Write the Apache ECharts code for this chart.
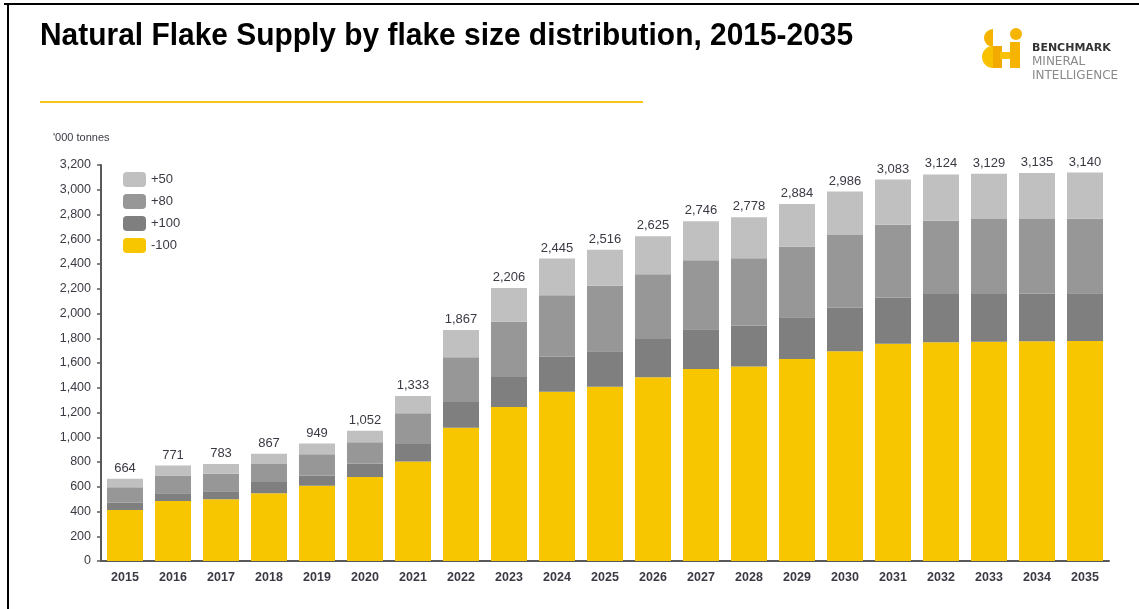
<!DOCTYPE html>
<html>
<head>
<meta charset="utf-8">
<script src="https://cdn.jsdelivr.net/npm/echarts@6/dist/echarts.min.js"></script>
<style>
html,body{margin:0;padding:0;background:#fff;}
#chart{width:1139px;height:609px;}
</style>
</head>
<body>
<div id="chart"></div>
<script>
const years = ['2015','2016','2017','2018','2019','2020','2021','2022','2023','2024','2025','2026','2027','2028','2029','2030','2031','2032','2033','2034','2035'];
const minus100 = [412,485,498,547,609,679,805,1077,1244,1368,1409,1484,1551,1571,1632,1694,1756,1767,1772,1775,1778];
const plus100  = [59,62,65,91,81,108,140,208,243,283,285,310,321,331,337,353,372,391,386,385,385];
const plus80   = [124,143,143,146,172,172,248,361,447,496,531,523,558,544,571,587,590,592,606,604,603];
const plus50   = [69,81,77,83,87,93,140,221,272,298,291,308,316,332,344,352,365,374,365,371,374];
const yTicks = {min:0, max:3200, interval:200};

const totals = years.map((_, i) => minus100[i] + plus100[i] + plus80[i] + plus50[i]);
const fmt = v => v.toLocaleString('en-US');

const chart = echarts.init(document.getElementById('chart'));
const labelColor = '#3a3a44';
const font = "'Liberation Sans', Arial, sans-serif";

function bar(name, data, color, extra) {
  return Object.assign({
    name, type: 'bar', stack: 'total', data, barWidth: '75%',
    itemStyle: {color},
    emphasis: {disabled: true}
  }, extra || {});
}

chart.setOption({
  animation: false,
  textStyle: {fontFamily: font},
  grid: {left: 101, right: 30, top: 165, bottom: 48, containLabel: false},
  legend: {
    orient: 'vertical', left: 123, top: 172, padding: 0,
    itemWidth: 23, itemHeight: 15, itemGap: 7,
    textStyle: {fontSize: 13, color: labelColor, fontFamily: font},
    data: ['+50', '+80', '+100', '-100']
  },
  xAxis: {
    type: 'category', data: years,
    axisLine: {lineStyle: {color: '#595959', width: 2}},
    axisTick: {show: false},
    axisLabel: {fontSize: 12.5, fontWeight: 'bold', color: labelColor, margin: 10, fontFamily: font}
  },
  yAxis: {
    type: 'value', min: yTicks.min, max: yTicks.max, interval: yTicks.interval,
    axisLine: {show: true, lineStyle: {color: '#595959', width: 2}},
    axisTick: {show: true, length: 4, lineStyle: {color: '#595959', width: 1.5}},
    splitLine: {show: false},
    axisLabel: {fontSize: 12.5, color: labelColor, margin: 10, formatter: v => fmt(v), fontFamily: font}
  },
  series: [
    bar('-100', minus100, '#F8C600'),
    bar('+100', plus100, '#7F7F7F'),
    bar('+80', plus80, '#979797'),
    bar('+50', plus50, '#C0C0C0', {
      label: {
        show: true, position: 'top', distance: 4,
        fontSize: 13, color: labelColor, fontFamily: font,
        formatter: p => fmt(totals[p.dataIndex])
      }
    })
  ],
  graphic: [
    {type: 'line', shape: {x1: 4, y1: 4, x2: 1139, y2: 4}, style: {stroke: '#000', lineWidth: 2}},
    {type: 'line', shape: {x1: 8, y1: 4, x2: 8, y2: 609}, style: {stroke: '#000', lineWidth: 2}},
    {type: 'text', x: 40, y: 20, scaleX: 0.935, originX: 0, style: {text: 'Natural Flake Supply by flake size distribution, 2015-2035', font: "bold 32px 'Liberation Sans', sans-serif", fill: '#000'}},
    {type: 'line', shape: {x1: 40, y1: 102, x2: 643, y2: 102}, style: {stroke: '#F5C518', lineWidth: 2}},
    {type: 'text', left: 53, top: 132, style: {text: "'000 tonnes", font: "11px 'Liberation Sans', sans-serif", fill: labelColor}},
    // logo
    {type: 'sector', shape: {cx: 993, cy: 38, r: 9, r0: 0, startAngle: Math.PI/2, endAngle: Math.PI*1.5, clockwise: true}, style: {fill: '#F6B400'}},
    {type: 'circle', shape: {cx: 1016, cy: 34, r: 6}, style: {fill: '#F6B400'}},
    {type: 'sector', shape: {cx: 993, cy: 57, r: 11, r0: 0, startAngle: Math.PI/2, endAngle: Math.PI*1.5, clockwise: true}, style: {fill: '#F8C200'}},
    {type: 'rect', shape: {x: 993, y: 46, width: 9, height: 22}, style: {fill: '#F2A900'}},
    {type: 'rect', shape: {x: 1000, y: 52, width: 12, height: 7}, style: {fill: '#F8C200'}},
    {type: 'rect', shape: {x: 1010, y: 42, width: 10, height: 26}, style: {fill: '#F6B400'}},
    {type: 'text', left: 1032, top: 43, style: {text: 'BENCHMARK', font: "bold 11px 'DejaVu Sans', sans-serif", fill: '#333'}},
    {type: 'text', left: 1032, top: 56, style: {text: 'MINERAL', font: "12px 'DejaVu Sans', sans-serif", fill: '#8a8a8a'}},
    {type: 'text', left: 1032, top: 70, style: {text: 'INTELLIGENCE', font: "12px 'DejaVu Sans', sans-serif", fill: '#8a8a8a'}}
  ]
});
</script>
</body>
</html>
